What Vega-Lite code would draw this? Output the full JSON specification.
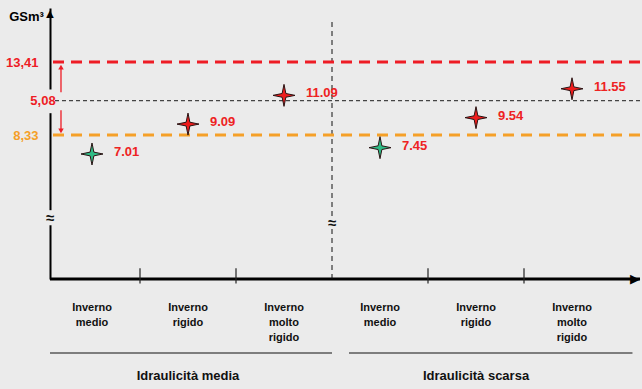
{
  "$schema": "https://vega.github.io/schema/vega-lite/v6.json",
  "width": 590,
  "height": 271,
  "autosize": {"type": "none"},
  "padding": {"left": 50, "top": 8, "right": 2, "bottom": 110},
  "background": "#ebebeb",
  "config": {"view": {"stroke": null}, "font": "Liberation Sans"},
  "data": {"values": [{}]},
  "datasets": {
    "stelle": [
      {"idraulicita": "Idraulicità media", "inverno": "Inverno medio", "cat": "media|Inverno medio", "valore": 7.01},
      {"idraulicita": "Idraulicità media", "inverno": "Inverno rigido", "cat": "media|Inverno rigido", "valore": 9.09},
      {"idraulicita": "Idraulicità media", "inverno": "Inverno molto rigido", "cat": "media|Inverno molto rigido", "valore": 11.09},
      {"idraulicita": "Idraulicità scarsa", "inverno": "Inverno medio", "cat": "scarsa|Inverno medio", "valore": 7.45},
      {"idraulicita": "Idraulicità scarsa", "inverno": "Inverno rigido", "cat": "scarsa|Inverno rigido", "valore": 9.54},
      {"idraulicita": "Idraulicità scarsa", "inverno": "Inverno molto rigido", "cat": "scarsa|Inverno molto rigido", "valore": 11.55}
    ],
    "confini": [
      {"cat": "media|Inverno rigido"},
      {"cat": "media|Inverno molto rigido"},
      {"cat": "scarsa|Inverno rigido"},
      {"cat": "scarsa|Inverno molto rigido"}
    ],
    "gruppi": [
      {"gruppo": "Idraulicità media", "cat": "media|Inverno rigido"},
      {"gruppo": "Idraulicità scarsa", "cat": "scarsa|Inverno rigido"}
    ]
  },
  "layer": [
    {
      "data": {"name": "stelle"},
      "mark": {"type": "point", "opacity": 0},
      "encoding": {
        "x": {
          "field": "cat", "type": "nominal",
          "scale": {"type": "band", "domain": ["media|Inverno medio", "media|Inverno rigido", "media|Inverno molto rigido", "scarsa|Inverno medio", "scarsa|Inverno rigido", "scarsa|Inverno molto rigido"], "range": [-6, 570], "paddingInner": 0, "paddingOuter": 0},
          "axis": {"title": null, "domain": false, "ticks": false, "labelAngle": 0, "labelExpr": "split(split(datum.value, '|')[1], ' ')", "labelFontSize": 11, "labelFontWeight": "bold", "labelColor": "#111111", "labelLineHeight": 15, "labelPadding": 22, "labelBaseline": "top"}
        },
        "y": {
          "field": "valore", "type": "quantitative",
          "scale": {"domain": [-1.69, 17.17], "nice": false, "zero": false},
          "axis": {"title": "GSm³", "titleAngle": 0, "titleX": -24, "titleY": 12, "titleAlign": "center", "titleBaseline": "alphabetic", "titleFontSize": 13, "titleFontWeight": "bold", "titleColor": "#000000", "values": [13.41, 8.33], "labelExpr": "replace(format(datum.value, '.2f'), '.', ',')", "labelColor": {"condition": {"test": "datum.value > 10", "value": "#ee1c25"}, "value": "#f5a028"}, "labelFontSize": 13, "labelFontWeight": "bold", "labelPadding": 12, "ticks": false, "grid": false, "domainColor": "#000000", "domainWidth": 2}
        }
      }
    },
    {
      "mark": {"type": "rule", "color": "#000000", "strokeWidth": 3},
      "encoding": {"y": {"datum": -1.69, "type": "quantitative"}}
    },
    {
      "data": {"name": "confini"},
      "mark": {"type": "rule", "color": "#222222", "strokeWidth": 1.2},
      "encoding": {
        "x": {"field": "cat", "type": "nominal", "bandPosition": 0},
        "y": {"datum": -2.0, "type": "quantitative"},
        "y2": {"datum": -0.95}
      }
    },
    {
      "mark": {"type": "rule", "color": "#111111", "strokeWidth": 1, "strokeDash": [5, 4]},
      "encoding": {
        "x": {"datum": "scarsa|Inverno medio", "type": "nominal", "bandPosition": 0},
        "y": {"datum": -1.69, "type": "quantitative"},
        "y2": {"datum": 16.47}
      }
    },
    {
      "mark": {"type": "rule", "color": "#ee1c25", "strokeWidth": 3, "strokeDash": [11, 7]},
      "encoding": {"y": {"datum": 13.41, "type": "quantitative"}}
    },
    {
      "mark": {"type": "rule", "color": "#f5a028", "strokeWidth": 3, "strokeDash": [11, 7]},
      "encoding": {"y": {"datum": 8.33, "type": "quantitative"}}
    },
    {
      "mark": {"type": "rule", "color": "#444444", "strokeWidth": 1.3, "strokeDash": [4, 3]},
      "encoding": {"y": {"datum": 10.72, "type": "quantitative"}}
    },
    {
      "mark": {"type": "rule", "color": "#ebebeb", "strokeWidth": 8},
      "encoding": {
        "x": {"datum": "media|Inverno medio", "type": "nominal", "bandPosition": 0.0625},
        "y": {"datum": 11.5, "type": "quantitative"},
        "y2": {"datum": 9.85}
      }
    },
    {
      "mark": {"type": "rule", "color": "#ebebeb", "strokeWidth": 8},
      "encoding": {
        "x": {"datum": "media|Inverno medio", "type": "nominal", "bandPosition": 0.0625},
        "y": {"datum": 3.1, "type": "quantitative"},
        "y2": {"datum": 2.05}
      }
    },
    {
      "mark": {"type": "rule", "color": "#ebebeb", "strokeWidth": 8},
      "encoding": {
        "x": {"datum": "scarsa|Inverno medio", "type": "nominal", "bandPosition": 0},
        "y": {"datum": 2.61, "type": "quantitative"},
        "y2": {"datum": 1.84}
      }
    },
    {
      "mark": {"type": "text", "text": "≈", "fontSize": 15, "fontWeight": "bold", "color": "#111111", "baseline": "middle", "align": "center"},
      "encoding": {
        "x": {"datum": "media|Inverno medio", "type": "nominal", "bandPosition": 0.0625},
        "y": {"datum": 2.56, "type": "quantitative"}
      }
    },
    {
      "mark": {"type": "text", "text": "≈", "fontSize": 15, "fontWeight": "bold", "color": "#111111", "baseline": "middle", "align": "center"},
      "encoding": {
        "x": {"datum": "scarsa|Inverno medio", "type": "nominal", "bandPosition": 0},
        "y": {"datum": 2.21, "type": "quantitative"}
      }
    },
    {
      "mark": {"type": "text", "text": "5,08", "fontSize": 13, "fontWeight": "bold", "color": "#ee1c25", "baseline": "middle", "align": "center", "dx": -1},
      "encoding": {
        "x": {"datum": "media|Inverno medio", "type": "nominal", "bandPosition": 0},
        "y": {"datum": 10.72, "type": "quantitative"}
      }
    },
    {
      "mark": {"type": "rule", "color": "#ee1c25", "strokeWidth": 1.3},
      "encoding": {
        "x": {"datum": "media|Inverno medio", "type": "nominal", "bandPosition": 0.177},
        "y": {"datum": 11.3, "type": "quantitative"},
        "y2": {"datum": 13.0}
      }
    },
    {
      "mark": {"type": "rule", "color": "#ee1c25", "strokeWidth": 1.3},
      "encoding": {
        "x": {"datum": "media|Inverno medio", "type": "nominal", "bandPosition": 0.177},
        "y": {"datum": 10.05, "type": "quantitative"},
        "y2": {"datum": 8.7}
      }
    },
    {
      "mark": {"type": "point", "shape": "triangle-up", "filled": true, "color": "#ee1c25", "size": 30, "opacity": 1},
      "encoding": {
        "x": {"datum": "media|Inverno medio", "type": "nominal", "bandPosition": 0.177},
        "y": {"datum": 13.05, "type": "quantitative"}
      }
    },
    {
      "mark": {"type": "point", "shape": "triangle-down", "filled": true, "color": "#ee1c25", "size": 30, "opacity": 1},
      "encoding": {
        "x": {"datum": "media|Inverno medio", "type": "nominal", "bandPosition": 0.177},
        "y": {"datum": 8.62, "type": "quantitative"}
      }
    },
    {
      "data": {"name": "stelle"},
      "mark": {"type": "point", "shape": "M0,-1L0.17,-0.17L1,0L0.17,0.17L0,1L-0.17,0.17L-1,0L-0.17,-0.17Z", "filled": true, "size": 484, "stroke": "#2a1414", "strokeWidth": 1, "opacity": 1},
      "encoding": {
        "x": {"field": "cat", "type": "nominal"},
        "y": {"field": "valore", "type": "quantitative"},
        "fill": {"field": "inverno", "type": "nominal", "scale": {"domain": ["Inverno medio", "Inverno rigido", "Inverno molto rigido"], "range": ["#2dbb85", "#ee1c1c", "#ee1c1c"]}, "legend": null}
      }
    },
    {
      "data": {"name": "stelle"},
      "mark": {"type": "text", "align": "left", "baseline": "middle", "dx": 22, "dy": -2, "fontSize": 13, "fontWeight": "bold", "color": "#ee2222"},
      "encoding": {
        "x": {"field": "cat", "type": "nominal"},
        "y": {"field": "valore", "type": "quantitative"},
        "text": {"field": "valore", "type": "quantitative", "format": ".2f"}
      }
    },
    {
      "mark": {"type": "text", "text": "▲", "fontSize": 13, "color": "#000000", "baseline": "top", "align": "center"},
      "encoding": {
        "x": {"datum": "media|Inverno medio", "type": "nominal", "bandPosition": 0.0625},
        "y": {"datum": 17.17, "type": "quantitative"}
      }
    },
    {
      "mark": {"type": "text", "text": "▶", "fontSize": 13, "color": "#000000", "baseline": "middle", "align": "right", "dx": 20},
      "encoding": {
        "x": {"datum": "scarsa|Inverno molto rigido", "type": "nominal", "bandPosition": 1},
        "y": {"datum": -1.69, "type": "quantitative"}
      }
    },
    {
      "mark": {"type": "rule", "color": "#111111", "strokeWidth": 1.2},
      "encoding": {
        "x": {"datum": "media|Inverno medio", "type": "nominal", "bandPosition": 0.0625},
        "x2": {"datum": "scarsa|Inverno medio", "bandPosition": 0},
        "y": {"datum": -6.84, "type": "quantitative"}
      }
    },
    {
      "mark": {"type": "rule", "color": "#111111", "strokeWidth": 1.2},
      "encoding": {
        "x": {"datum": "scarsa|Inverno medio", "type": "nominal", "bandPosition": 0.177},
        "x2": {"datum": "scarsa|Inverno molto rigido", "bandPosition": 1.13},
        "y": {"datum": -6.84, "type": "quantitative"}
      }
    },
    {
      "data": {"name": "gruppi"},
      "mark": {"type": "text", "fontSize": 13, "fontWeight": "bold", "color": "#111111", "baseline": "middle", "align": "center"},
      "encoding": {
        "x": {"field": "cat", "type": "nominal"},
        "y": {"datum": -8.44, "type": "quantitative"},
        "text": {"field": "gruppo"}
      }
    }
  ]
}
